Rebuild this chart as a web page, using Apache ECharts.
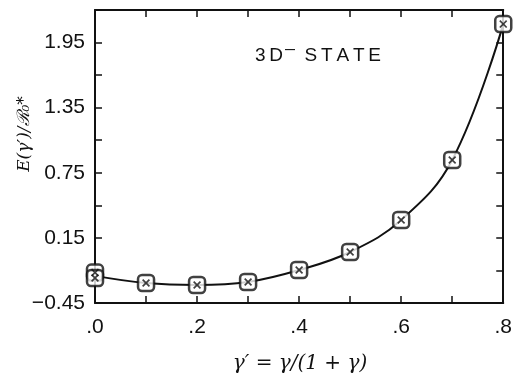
<!DOCTYPE html>
<html>
<head>
<meta charset="utf-8">
<script src="https://cdn.jsdelivr.net/npm/echarts@6/dist/echarts.min.js"></script>
<style>
  html, body { margin: 0; padding: 0; background: #fff; }
  #chart { width: 515px; height: 377px; }
</style>
</head>
<body>
<div id="chart"></div>
<script>
// values
const gammaPrime = [0, 0, 0.1, 0.2, 0.3, 0.4, 0.5, 0.6, 0.7, 0.8];
const energies = [-0.17, -0.22, -0.266, -0.284, -0.256, -0.146, 0.02, 0.315, 0.868, 2.12];
const curveX = [0, 0.1, 0.2, 0.3, 0.4, 0.5, 0.6, 0.7, 0.8];
const curveY = [-0.2, -0.266, -0.284, -0.256, -0.146, 0.02, 0.315, 0.868, 2.12];
const yTicks = [-0.45, 0.15, 0.75, 1.35, 1.95];

const chart = echarts.init(document.getElementById('chart'));

const points = gammaPrime.map((x, i) => [x, energies[i]]);
const curve = curveX.map((x, i) => [x, curveY[i]]);
const crossPath = 'path://M0,1.5L1.5,0L5,3.5L8.5,0L10,1.5L6.5,5L10,8.5L8.5,10L5,6.5L1.5,10L0,8.5L3.5,5Z';

const ink = '#111';
const tickFont = { color: ink, fontSize: 21, fontFamily: 'Liberation Sans' };
const tickStyle = { color: ink, width: 1.5 };
const frame = { onZero: false, lineStyle: { color: ink, width: 2 } };

chart.setOption({
    animation: false,
    grid: { left: 95, right: 3, top: 10, bottom: 74 },
    xAxis: [
        {
            type: 'value', min: 0, max: 0.8, interval: 0.2,
            axisLine: frame,
            axisTick: { inside: true, length: 7, lineStyle: tickStyle },
            minorTick: { show: true, splitNumber: 2, length: 7, lineStyle: tickStyle },
            splitLine: { show: false },
            axisLabel: {
                ...tickFont, margin: 14,
                formatter: v => v.toFixed(1).replace(/^0/, '')
            }
        },
        {
            type: 'value', position: 'top', min: 0, max: 0.8, interval: 0.1,
            axisLine: frame,
            axisTick: { inside: true, length: 7, lineStyle: tickStyle },
            splitLine: { show: false },
            axisLabel: { show: false }
        }
    ],
    yAxis: [
        {
            type: 'value', min: -0.45, max: 2.25, interval: 0.6,
            axisLine: { show: true, ...frame },
            axisTick: { show: true, inside: true, length: 7, lineStyle: tickStyle },
            minorTick: { show: true, splitNumber: 2, length: 7, lineStyle: tickStyle },
            splitLine: { show: false },
            axisLabel: {
                ...tickFont, margin: 10, showMaxLabel: false,
                formatter: v => {
                    const t = yTicks.find(k => Math.abs(k - v) < 1e-6);
                    return t === undefined ? '' : t.toFixed(2).replace('-', '\u2212');
                }
            }
        },
        {
            type: 'value', position: 'right', min: -0.45, max: 2.25, interval: 0.3,
            axisLine: { show: true, ...frame },
            axisTick: { show: true, inside: true, length: 7, lineStyle: tickStyle },
            splitLine: { show: false },
            axisLabel: { show: false }
        }
    ],
    graphic: [
        {
            type: 'text', x: 255, y: 56,
            style: {
                text: '3\u2009D{s|\u2014}\u2002S\u2009T\u2009A\u2009T\u2009E',
                font: '19px "Liberation Sans"', fill: ink, verticalAlign: 'middle',
                rich: { s: { fontSize: 10, fontWeight: 'bold', padding: [0, 0, 12, 2] } }
            }
        },
        {
            type: 'text', x: 25, y: 134, rotation: Math.PI / 2,
            style: {
                text: 'E(\u03B3\u2032)/\u211B\u2080*',
                font: 'italic 17px "DejaVu Serif"', fill: ink,
                align: 'center', verticalAlign: 'middle'
            }
        },
        {
            type: 'text', x: 300, y: 364,
            style: {
                text: '\u03B3\u2032 = \u03B3/(1 + \u03B3)',
                font: 'italic 20px "DejaVu Serif"', fill: ink,
                align: 'center', verticalAlign: 'middle'
            }
        }
    ],
    series: [
        {
            type: 'line', data: curve, smooth: 0.4, symbol: 'none',
            lineStyle: { color: ink, width: 2 }, z: 2
        },
        {
            type: 'scatter', data: points, symbol: 'roundRect', symbolSize: 16,
            itemStyle: { color: '#fff', borderColor: ink, borderWidth: 2.5 }, z: 3
        },
        {
            type: 'scatter', data: points, symbol: crossPath, symbolSize: 8,
            itemStyle: { color: ink }, z: 4
        }
    ]
});
</script>
</body>
</html>
